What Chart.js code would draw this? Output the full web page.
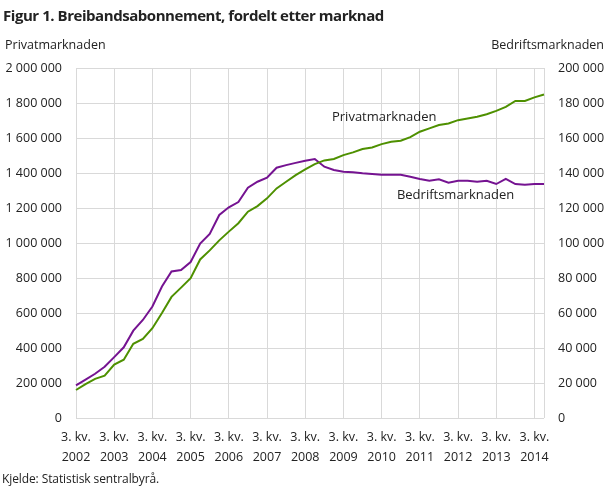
<!DOCTYPE html>
<html lang="nn">
<head>
<meta charset="utf-8">
<script src="https://cdn.jsdelivr.net/npm/chart.js@4.4.1/dist/chart.umd.min.js"></script>
<style>
html, body { margin: 0; padding: 0; background: #fff; }
canvas { display: block; }
</style>
</head>
<body>
<canvas id="figur" width="610" height="487"></canvas>
<script>
// Kvartal (3. kv. 2002 - 4. kv. 2014)
const kvartal = [
    '3. kv. 2002', '4. kv. 2002',
    '1. kv. 2003', '2. kv. 2003', '3. kv. 2003', '4. kv. 2003',
    '1. kv. 2004', '2. kv. 2004', '3. kv. 2004', '4. kv. 2004',
    '1. kv. 2005', '2. kv. 2005', '3. kv. 2005', '4. kv. 2005',
    '1. kv. 2006', '2. kv. 2006', '3. kv. 2006', '4. kv. 2006',
    '1. kv. 2007', '2. kv. 2007', '3. kv. 2007', '4. kv. 2007',
    '1. kv. 2008', '2. kv. 2008', '3. kv. 2008', '4. kv. 2008',
    '1. kv. 2009', '2. kv. 2009', '3. kv. 2009', '4. kv. 2009',
    '1. kv. 2010', '2. kv. 2010', '3. kv. 2010', '4. kv. 2010',
    '1. kv. 2011', '2. kv. 2011', '3. kv. 2011', '4. kv. 2011',
    '1. kv. 2012', '2. kv. 2012', '3. kv. 2012', '4. kv. 2012',
    '1. kv. 2013', '2. kv. 2013', '3. kv. 2013', '4. kv. 2013',
    '1. kv. 2014', '2. kv. 2014', '3. kv. 2014', '4. kv. 2014'
];

// Privatmarknaden (venstre akse)
const privat = [
    160000, 194000, 224000, 242000, 305000, 333000, 424000, 452000, 513000, 600000,
    692000, 745000, 799000, 906000, 958000, 1015000, 1065000, 1113000, 1179000, 1211000,
    1255000, 1312000, 1350000, 1388000, 1421000, 1451000, 1472000, 1480000, 1502000, 1518000,
    1537000, 1546000, 1565000, 1578000, 1584000, 1605000, 1636000, 1655000, 1674000, 1683000,
    1702000, 1712000, 1721000, 1736000, 1755000, 1778000, 1812000, 1812000, 1832000, 1849000
];

// Bedriftsmarknaden (høgre akse)
const bedrift = [
    18600, 21900, 25300, 29300, 34800, 40400, 49900, 56000, 63700, 75100,
    83700, 84600, 89100, 99700, 105200, 116000, 120400, 123400, 131600, 135000,
    137300, 143000, 144500, 145800, 147000, 148000, 143600, 141700, 140700, 140400,
    139800, 139400, 139000, 139000, 139000, 137900, 136600, 135600, 136400, 134500,
    135600, 135600, 135000, 135600, 133700, 136700, 133700, 133300, 133700, 133700
];

const venstreTicks = { min: 0, max: 2000000, step: 200000 };
const hogreTicks = { min: 0, max: 200000, step: 20000 };

const tittel = 'Figur 1. Breibandsabonnement, fordelt etter marknad';
const kjelde = 'Kjelde: Statistisk sentralbyrå.';

const gronn = '#4e9000';
const lilla = '#751391';
const tekst = '#222222';
const rutenett = '#d9d9d9';
const skrift = '"Open Sans", "DejaVu Sans", sans-serif';

// tal med mellomrom som tusenskilje
function formatTal(v) {
    return String(v).replace(/\B(?=(\d{3})+(?!\d))/g, ' ');
}

// tekst rundt diagrammet
const tekstPlugin = {
    id: 'tekstPlugin',
    afterDraw(chart) {
        const ctx = chart.ctx;
        const x = chart.scales.x;
        const yv = chart.scales.yv;
        const yh = chart.scales.yh;
        ctx.save();
        ctx.fillStyle = tekst;
        ctx.textBaseline = 'middle';

        ctx.font = 'bold 15px ' + skrift;
        ctx.letterSpacing = '-0.45px';
        ctx.textAlign = 'left';
        ctx.fillText(tittel, 3, 17);

        ctx.letterSpacing = '0px';
        ctx.font = '12.5px ' + skrift;
        ctx.fillText('Privatmarknaden', 5, 45);
        ctx.textAlign = 'right';
        ctx.fillText('Bedriftsmarknaden', 604, 45);

        // linjeetikettar
        ctx.textAlign = 'left';
        ctx.font = '13px ' + skrift;
        ctx.fillText('Privatmarknaden', x.getPixelForValue(26.8), yv.getPixelForValue(1721000));
        ctx.fillText('Bedriftsmarknaden', x.getPixelForValue(33.6), yh.getPixelForValue(127000));

        ctx.font = '12px ' + skrift;
        ctx.letterSpacing = '-0.1px';
        ctx.fillText(kjelde, 2, 480);
        ctx.restore();
    }
};

new Chart(document.getElementById('figur'), {
    type: 'line',
    data: {
        labels: kvartal,
        datasets: [
            {
                label: 'Privatmarknaden',
                data: privat,
                yAxisID: 'yv',
                borderColor: gronn,
                borderWidth: 2,
                pointRadius: 0,
                tension: 0,
                fill: false
            },
            {
                label: 'Bedriftsmarknaden',
                data: bedrift,
                yAxisID: 'yh',
                borderColor: lilla,
                borderWidth: 2,
                pointRadius: 0,
                tension: 0,
                fill: false
            }
        ]
    },
    options: {
        responsive: false,
        animation: false,
        layout: { padding: { top: 68, left: 0, right: 0, bottom: 0 } },
        plugins: {
            legend: { display: false },
            tooltip: { enabled: false },
            title: { display: false }
        },
        scales: {
            x: {
                type: 'category',
                offset: false,
                border: { display: false },
                grid: {
                    drawTicks: false,
                    color: function (c) {
                        return (c.index % 4 === 0 || c.index === kvartal.length - 1) ? rutenett : 'rgba(0,0,0,0)';
                    },
                    lineWidth: 1
                },
                ticks: {
                    autoSkip: false,
                    maxRotation: 0,
                    minRotation: 0,
                    padding: 10,
                    color: tekst,
                    font: { family: skrift, size: 12.5, lineHeight: 1.55 },
                    callback: function (value, index) {
                        if (index % 4 !== 0) return '';
                        const l = this.getLabelForValue(value);
                        return [l.slice(0, 6), l.slice(7)];
                    }
                },
                afterFit: function (s) { s.height = 69; }
            },
            yv: {
                type: 'linear',
                position: 'left',
                min: venstreTicks.min,
                max: venstreTicks.max,
                border: { display: false },
                grid: { drawTicks: false, color: rutenett, lineWidth: 1 },
                ticks: {
                    stepSize: venstreTicks.step,
                    padding: 14,
                    color: tekst,
                    font: { family: skrift, size: 12.5 },
                    callback: function (v) { return formatTal(v); }
                },
                afterFit: function (s) { s.width = 76; }
            },
            yh: {
                type: 'linear',
                position: 'right',
                min: hogreTicks.min,
                max: hogreTicks.max,
                border: { display: false },
                grid: { drawOnChartArea: false, drawTicks: false },
                ticks: {
                    stepSize: hogreTicks.step,
                    padding: 14,
                    color: tekst,
                    font: { family: skrift, size: 12.5 },
                    callback: function (v) { return formatTal(v); }
                },
                afterFit: function (s) { s.width = 66; }
            }
        }
    },
    plugins: [tekstPlugin]
});
</script>
</body>
</html>
